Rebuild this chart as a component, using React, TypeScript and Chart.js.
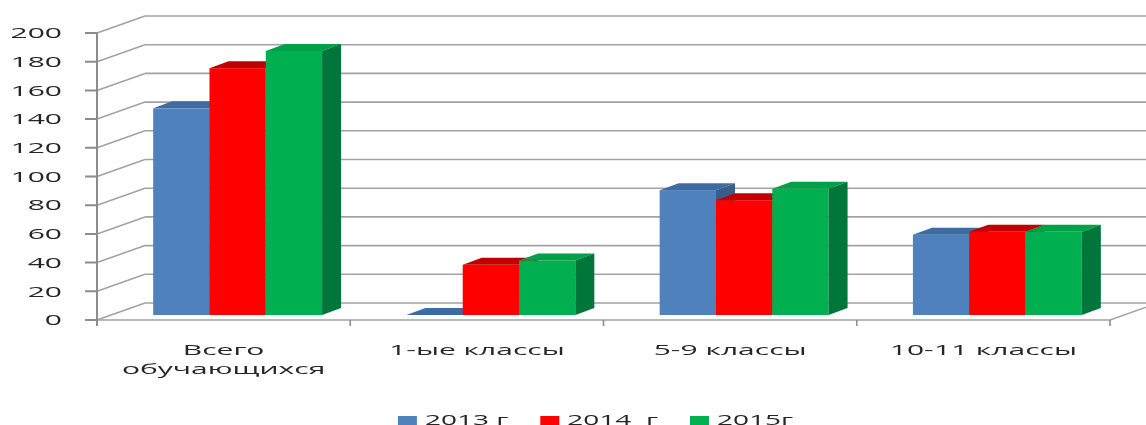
import { useEffect, useRef } from "react";
import { Chart, registerables } from "chart.js";

Chart.register(...registerables);

// ---- data ----
const categories: (string | string[])[] = [["Всего", "обучающихся"], "1-ые классы", "5-9 классы", "10-11 классы"];
const seriesLabels = ["2013 г", "2014  г", "2015г"];
const values2013 = [144, 0, 87, 56];
const values2014 = [172, 35, 80, 58];
const values2015 = [184, 38, 88, 58];
const yMin = 0;
const yMax = 200;
const yStep = 20;

// ---- style ----
const frontColors = ["#4F81BD", "#FF0000", "#00B050"];
const topColors = ["#3F6BA3", "#C00000", "#00A048"];
const sideColors = ["#385D8A", "#B00000", "#00763A"];
const FONT = "'Open Sans', 'DejaVu Sans', sans-serif";
const TEXT_SX = 2.0; // horizontal stretch of the reference's text
const depth = { barDx: 19, barDy: -7, wallDx: 34, wallDy: -12, frontDx: -14, frontDy: 5 };

const threeD = {
  id: "threeD",
  beforeDatasetsDraw(chart: any) {
    const ctx = chart.ctx as CanvasRenderingContext2D;
    const ys = chart.scales.y;
    const xs = chart.scales.x;
    const a = chart.chartArea;
    const y0 = ys.getPixelForValue(yMin);
    const yTop = ys.getPixelForValue(yMax);
    ctx.save();
    // back wall gridlines + left wall diagonals
    ctx.strokeStyle = "#A3A3A3";
    ctx.lineWidth = 1.6;
    ys.ticks.forEach((t: any) => {
      const py = ys.getPixelForValue(t.value);
      ctx.beginPath();
      ctx.moveTo(a.left + depth.wallDx, py + depth.wallDy);
      ctx.lineTo(a.right + depth.wallDx + 40, py + depth.wallDy);
      ctx.moveTo(a.left + depth.frontDx, py + depth.frontDy);
      ctx.lineTo(a.left + depth.wallDx, py + depth.wallDy);
      ctx.stroke();
    });
    // floor front edge and right diagonal
    ctx.beginPath();
    ctx.moveTo(a.left + depth.frontDx, y0 + depth.frontDy);
    ctx.lineTo(a.right + depth.frontDx, y0 + depth.frontDy);
    ctx.lineTo(a.right + depth.wallDx, y0 + depth.wallDy);
    ctx.stroke();
    // category boundary ticks
    const n = categories.length;
    ctx.strokeStyle = "#8C8C8C";
    ctx.lineWidth = 1.6;
    for (let i = 1; i <= n; i++) {
      const bx = i === n ? a.right : (xs.getPixelForValue(i - 1) + xs.getPixelForValue(i)) / 2;
      ctx.beginPath();
      ctx.moveTo(bx + depth.frontDx, y0 + depth.frontDy);
      ctx.lineTo(bx + depth.frontDx, y0 + depth.frontDy + 6);
      ctx.stroke();
    }
    // front value axis
    ctx.strokeStyle = "#8C8C8C";
    ctx.lineWidth = 2;
    ctx.beginPath();
    ctx.moveTo(a.left + depth.frontDx, yTop + depth.frontDy);
    ctx.lineTo(a.left + depth.frontDx, y0 + depth.frontDy + 6);
    ys.ticks.forEach((t: any) => {
      const py = ys.getPixelForValue(t.value) + depth.frontDy;
      ctx.moveTo(a.left + depth.frontDx - 12, py);
      ctx.lineTo(a.left + depth.frontDx, py);
    });
    ctx.stroke();

    // bars, drawn left to right so nearer bars cover side faces
    const items: { el: any; d: number }[] = [];
    chart.data.datasets.forEach((_: any, d: number) => {
      chart.getDatasetMeta(d).data.forEach((el: any) => items.push({ el, d }));
    });
    items.sort((p, q) => p.el.x - q.el.x);
    items.forEach(({ el, d }) => {
      const { x, y, base, width } = el.getProps(["x", "y", "base", "width"], true);
      const L = x - width / 2;
      const R = x + width / 2;
      ctx.fillStyle = frontColors[d];
      ctx.fillRect(L, y, R - L, base - y);
      ctx.fillStyle = topColors[d];
      ctx.beginPath();
      ctx.moveTo(L, y);
      ctx.lineTo(R, y);
      ctx.lineTo(R + depth.barDx, y + depth.barDy);
      ctx.lineTo(L + depth.barDx, y + depth.barDy);
      ctx.closePath();
      ctx.fill();
      ctx.fillStyle = sideColors[d];
      ctx.beginPath();
      ctx.moveTo(R, y);
      ctx.lineTo(R + depth.barDx, y + depth.barDy);
      ctx.lineTo(R + depth.barDx, base + depth.barDy);
      ctx.lineTo(R, base);
      ctx.closePath();
      ctx.fill();
    });
    ctx.restore();
    return false;
  },
  afterDraw(chart: any) {
    const ctx = chart.ctx as CanvasRenderingContext2D;
    const ys = chart.scales.y;
    const xs = chart.scales.x;
    const a = chart.chartArea;
    const y0 = ys.getPixelForValue(yMin);
    ctx.save();
    ctx.fillStyle = "#262626";
    const stretched = (text: string, px: number, py: number, align: CanvasTextAlign) => {
      ctx.save();
      ctx.translate(px, py);
      ctx.scale(TEXT_SX, 1);
      ctx.textAlign = align;
      ctx.fillText(text, 0, 0);
      ctx.restore();
    };
    // value axis labels
    ctx.font = `15px ${FONT}`;
    ctx.textBaseline = "middle";
    ys.ticks.forEach((t: any) => {
      const py = ys.getPixelForValue(t.value) + depth.frontDy + 1;
      stretched(String(t.label), a.left + depth.frontDx - 35, py, "right");
    });
    // category labels
    categories.forEach((c, i) => {
      const lines = Array.isArray(c) ? c : [c];
      const cx = xs.getPixelForValue(i) + depth.frontDx;
      lines.forEach((ln, k) => {
        stretched(ln, cx, y0 + depth.frontDy + 31 + k * 19, "center");
      });
    });
    // legend
    ctx.font = `14px ${FONT}`;
    ctx.textBaseline = "alphabetic";
    const box = 19;
    const gap = 8;
    const spacing = 32;
    const widths = seriesLabels.map((s) => box + gap + ctx.measureText(s).width * TEXT_SX);
    const total = widths.reduce((s, w) => s + w, 0) + spacing * (widths.length - 1);
    let lx = (a.left + a.right) / 2 + depth.frontDx - 8 - total / 2;
    const ly = chart.height;
    seriesLabels.forEach((s, i) => {
      ctx.fillStyle = frontColors[i];
      ctx.fillRect(lx, ly - 9, box, 10);
      ctx.fillStyle = "#262626";
      stretched(s, lx + box + gap, ly, "left");
      lx += widths[i] + spacing;
    });
    ctx.restore();
  },
};

export default function App() {
  const ref = useRef<HTMLCanvasElement | null>(null);
  useEffect(() => {
    document.body.style.margin = "0";
    const canvas = ref.current!;
    const chart = new Chart(canvas, {
      type: "bar",
      data: {
        labels: categories as any,
        datasets: [
          { label: seriesLabels[0], data: values2013, backgroundColor: frontColors[0] },
          { label: seriesLabels[1], data: values2014, backgroundColor: frontColors[1] },
          { label: seriesLabels[2], data: values2015, backgroundColor: frontColors[2] },
        ],
      },
      options: {
        responsive: false,
        animation: false,
        events: [],
        layout: { padding: { left: 111, right: 22, top: 28, bottom: 110 } },
        datasets: { bar: { barPercentage: 1, categoryPercentage: 0.667, borderWidth: 0 } },
        scales: {
          x: { display: false, offset: true, grid: { display: false } },
          y: { display: false, min: yMin, max: yMax, ticks: { stepSize: yStep } },
        },
        plugins: { legend: { display: false }, tooltip: { enabled: false }, title: { display: false } },
      },
      plugins: [threeD],
    });
    return () => chart.destroy();
  }, []);
  return (
    <div style={{ width: 1146, height: 425, background: "#fff" }}>
      <canvas ref={ref} width={1146} height={425} />
    </div>
  );
}
